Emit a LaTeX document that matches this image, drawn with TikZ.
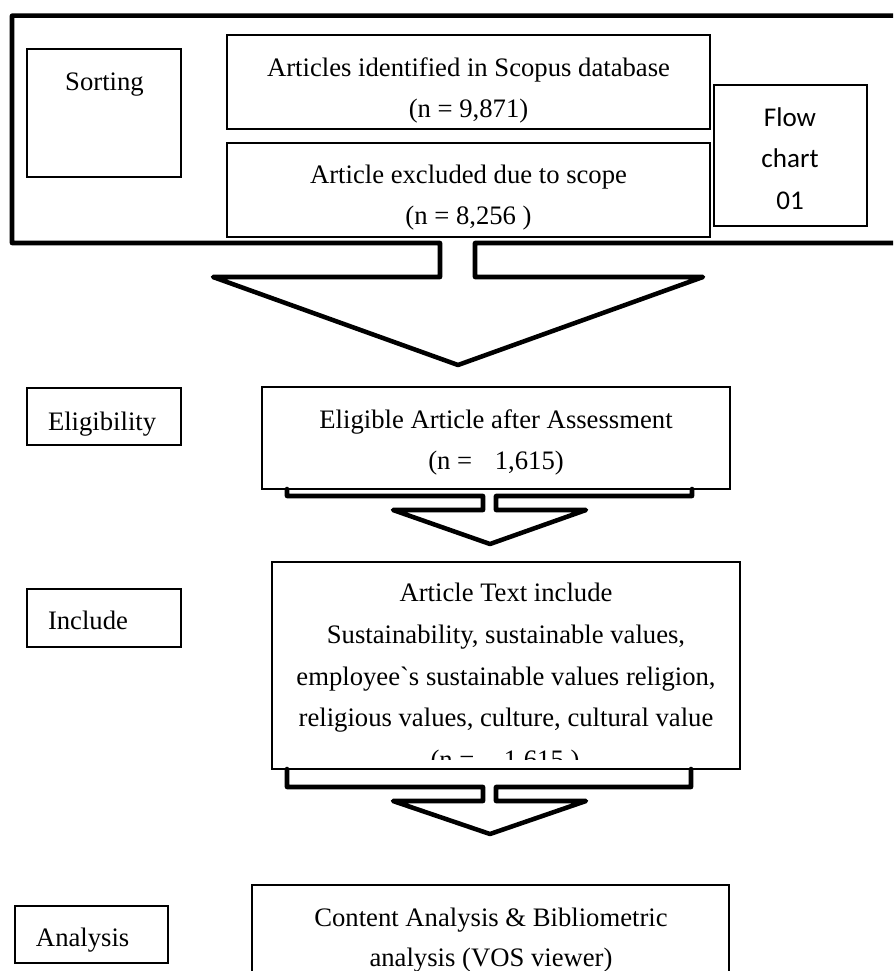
\documentclass[tikz,border=0pt]{standalone}
\usepackage{fontspec}
\setmainfont{Liberation Serif}
\newfontfamily\rawserif[Ligatures=TeXOff]{Liberation Serif}
\newfontfamily\flowfont{Carlito}
\usetikzlibrary{fit}
\begin{document}
\begin{tikzpicture}[x=0.75pt,y=-0.75pt,
  boxst/.style={draw, line width=1.1pt, inner sep=0pt, outer sep=0pt},
  txt/.style={inner sep=0pt, outer sep=0pt, font=\fontsize{20}{24}\selectfont, anchor=base},
  txtw/.style={txt, anchor=base west},
  flowtxt/.style={inner sep=0pt, outer sep=0pt, font=\flowfont\fontsize{20.3}{24}\selectfont, anchor=base},
  blockline/.style={draw, line width=3.4pt, line join=round, line cap=round}
]
\useasboundingbox (0,0) rectangle (893,971);
\clip (0,0) rectangle (893,971);

% ---- outer frame with first block arrow ----
\coordinate (tip1) at (458,365);
\draw[blockline] (440,243) -- (12,243) -- (12,15.7) -- (905,15.7) -- (905,243)
  -- (475,243) -- (475,277) -- (703,277) -- (tip1) -- (213,277) -- (440,277) -- cycle;

% ---- boxes of the first stage ----
\node[boxst, fit={(27,49) (181,177)}] (sort) {};
\node[txt] (sortt) at (104.5,90.7) {Sorting};

\node[boxst, fit={(227,35) (710,129)}] (art) {};
\node[txt] (art1) at (468.5,76) {Articles identified in Scopus database};
\node[txt] (art2) at (468.5,117.5) {(n = 9,871)};

\node[boxst, fit={(227,143) (710,237)}] (exc) {};
\node[txt] (exc1) at (468.5,183.3) {Article excluded due to scope};
\node[txt] (exc2) at (468.5,224) {(n = 8,256 )};

\node[boxst, fit={(714,85) (867,226)}] (flow) {};
\node[flowtxt] (flow1) at (790,126) {Flow};
\node[flowtxt] (flow2) at (790,167.7) {chart};
\node[flowtxt] (flow3) at (790,209.3) {01};

% ---- eligibility ----
\node[boxst, fit={(27,388) (181,445)}] (elig) {};
\node[txtw] (eligt) at (48,430.7) {Eligibility};

\node[boxst, fit={(262,387) (730,489)}] (eart) {};
\node[txt] (eart1) at (496,428.3) {Eligible Article after Assessment};
\node[txt] (eart2) at (496,469.5) {(n =\hspace{12pt} 1,615)};

\coordinate (tip2) at (490,544);
\draw[blockline] (287,489) -- (287,496) -- (483,496) -- (483,510) -- (393,510) -- (tip2)
  -- (586,510) -- (496,510) -- (496,496) -- (692,496) -- (692,489);

% ---- include ----
\node[boxst, fit={(27,589) (181,647)}] (incl) {};
\node[txtw] (inclt) at (48,629.3) {Include};

\node[boxst, fit={(272,562) (740,769)}] (itxt) {};
\node[txt] (it1) at (506,601.7) {Article Text include};
\node[txt] (it2) at (506,643.3) {Sustainability, sustainable values,};
\node[txt] (it3) at (506,685) {employee{\rawserif`}s sustainable values religion,};
\node[txt] (it4) at (506,726.7) {religious values, culture, cultural value};
\begin{scope}
  \clip (272,562) rectangle (740,759);
  \node[txt] (it5) at (505,768.3) {(n =\hspace{17pt} 1,615 )};
\end{scope}

\coordinate (tip3) at (490,834);
\draw[blockline] (287,769) -- (287,787) -- (483,787) -- (483,801) -- (393,801) -- (tip3)
  -- (586,801) -- (496,801) -- (496,787) -- (691,787) -- (691,769);

% ---- analysis ----
\node[boxst, fit={(15,906) (168,963)}] (anl) {};
\node[txtw] (anlt) at (36,946) {Analysis};

\node[boxst, fit={(252,885) (729,995)}] (cont) {};
\node[txt] (cont1) at (491,926) {Content Analysis \& Bibliometric};
\node[txt] (cont2) at (491,966) {analysis (VOS viewer)};
\end{tikzpicture}
\end{document}
